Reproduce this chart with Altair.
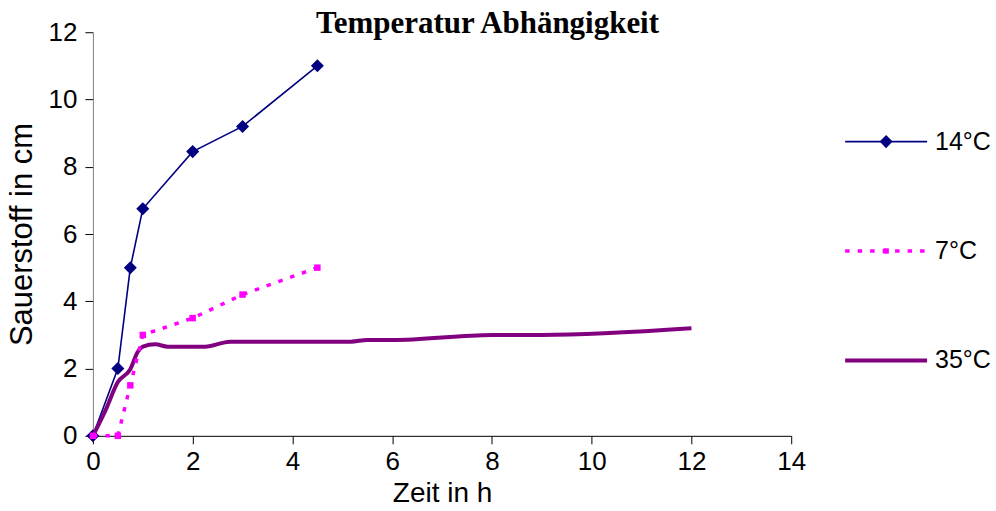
import altair as alt
import pandas as pd

# ---- data ----
series_names = ["14°C", "7°C", "35°C"]

x_14 = [0, 0.5, 0.75, 1, 2, 3, 4.5]
y_14 = [0, 2, 5, 6.75, 8.45, 9.2, 11]

x_7 = [0, 0.5, 0.75, 1, 2, 3, 4.5]
y_7 = [0, 0, 1.5, 3, 3.5, 4.2, 5]

x_35 = [0, 0.25, 0.5, 0.75, 0.9, 1, 1.25, 1.5, 2, 2.25, 2.75, 3, 4.5, 5.17, 5.5, 6, 8, 9, 12]
y_35 = [0, 0.75, 1.6, 1.98, 2.5, 2.65, 2.72, 2.65, 2.65, 2.65, 2.8, 2.8, 2.8, 2.8, 2.85, 2.85, 3.0, 3.0, 3.2]

x_ticks = [0, 2, 4, 6, 8, 10, 12, 14]
y_ticks = [0, 2, 4, 6, 8, 10, 12]

df = pd.concat([
    pd.DataFrame({"series": "14°C", "x": x_14, "y": y_14}),
    pd.DataFrame({"series": "7°C", "x": x_7, "y": y_7}),
    pd.DataFrame({"series": "35°C", "x": x_35, "y": y_35}),
], ignore_index=True)

NAVY = "#000080"
MAGENTA = "#FF00FF"
PURPLE = "#800080"
SANS = "Liberation Sans"

xenc = alt.X("x:Q",
             scale=alt.Scale(domain=[0, 14], nice=False, zero=True),
             axis=alt.Axis(values=x_ticks, title="Zeit in h", grid=False,
                           labelFont=SANS, titleFont=SANS, labelFontSize=26, titleFontSize=28,
                           titleFontWeight="normal", labelColor="black", titleColor="black",
                           domainColor="black", tickColor="black", tickSize=8,
                           labelPadding=5, titlePadding=5, labelFlush=False, format="d"))
yenc = alt.Y("y:Q",
             scale=alt.Scale(domain=[0, 12], nice=False, zero=True),
             axis=alt.Axis(values=y_ticks, title="Sauerstoff in cm", grid=False,
                           labelFont=SANS, titleFont=SANS, labelFontSize=26, titleFontSize=31,
                           titleFontWeight="normal", labelColor="black", titleColor="black",
                           domainColor="#808080", tickColor="black", tickSize=8,
                           labelPadding=8, titlePadding=10, labelFlush=False, format="d"))

base = alt.Chart(df)

l14 = base.transform_filter(alt.datum.series == "14°C").mark_line(
    color=NAVY, strokeWidth=1.6).encode(x=xenc, y=yenc)
p14 = base.transform_filter(alt.datum.series == "14°C").mark_point(
    shape="diamond", filled=True, size=170, color=NAVY, opacity=1).encode(x=xenc, y=yenc)
l35 = base.transform_filter(alt.datum.series == "35°C").mark_line(
    color=PURPLE, strokeWidth=4, interpolate="monotone").encode(x=xenc, y=yenc)
l7 = base.transform_filter(alt.datum.series == "7°C").mark_line(
    color=MAGENTA, strokeWidth=3.5, strokeDash=[4.5, 8]).encode(x=xenc, y=yenc)
p7 = base.transform_filter(alt.datum.series == "7°C").mark_point(
    shape="square", filled=True, size=42, color=MAGENTA, opacity=1).encode(x=xenc, y=yenc)

main = alt.layer(l14, p14, l35, l7, p7).properties(width=699, height=404)

# ---- legend panel ----
leg_line_df = pd.DataFrame({"series": [s for s in series_names for _ in range(2)],
                            "lx": [0, 1] * len(series_names)})
leg_mark_df = pd.DataFrame({"series": ["14°C", "7°C"], "lx": [0.5, 0.5]})
leg_text_df = pd.DataFrame({"series": series_names, "lx": [1] * len(series_names)})

ly = alt.Y("series:N", scale=alt.Scale(type="point", domain=series_names, padding=1.017), axis=None)
lx = alt.X("lx:Q", scale=alt.Scale(domain=[0, 1], nice=False, zero=False), axis=None)

lb = alt.Chart(leg_line_df)
mb = alt.Chart(leg_mark_df)
g14 = lb.transform_filter(alt.datum.series == "14°C").mark_line(color=NAVY, strokeWidth=1.6).encode(x=lx, y=ly)
g7 = lb.transform_filter(alt.datum.series == "7°C").mark_line(color=MAGENTA, strokeWidth=3.5, strokeDash=[4.5, 8]).encode(x=lx, y=ly)
g35 = lb.transform_filter(alt.datum.series == "35°C").mark_line(color=PURPLE, strokeWidth=4).encode(x=lx, y=ly)
gm14 = mb.transform_filter(alt.datum.series == "14°C").mark_point(shape="diamond", filled=True, size=170, color=NAVY, opacity=1).encode(x=lx, y=ly)
gm7 = mb.transform_filter(alt.datum.series == "7°C").mark_point(shape="square", filled=True, size=30, color=MAGENTA, opacity=1).encode(x=lx, y=ly)
gt = alt.Chart(leg_text_df).mark_text(align="left", baseline="middle", dx=8, font=SANS, fontSize=25,
                                      color="black").encode(x=lx, y=ly, text="series:N")

legend = alt.layer(g14, g7, g35, gm14, gm7, gt).properties(width=82, height=438)

chart = alt.hconcat(
    main, legend, spacing=54, bounds="flush",
    title=alt.TitleParams(text="Temperatur Abhängigkeit", font="Liberation Serif", fontSize=31,
                          fontWeight="bold", color="black", anchor="middle", offset=-21, dx=-11),
).properties(
    padding={"left": 6, "top": 8, "right": 5, "bottom": 2},
    background="white",
).configure_view(stroke=None)

chart.save("out.html", embed_options={"renderer": "svg", "actions": False})
